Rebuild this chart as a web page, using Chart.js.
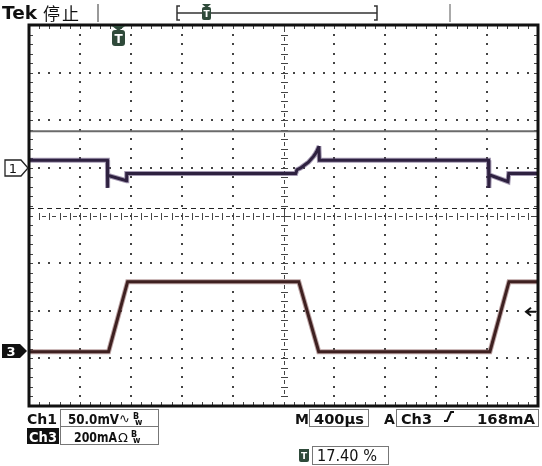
<!DOCTYPE html>
<html>
<head>
<meta charset="utf-8">
<script src="https://cdn.jsdelivr.net/npm/chart.js@4.4.1/dist/chart.umd.min.js"></script>
<style>
  html, body { margin: 0; padding: 0; background: #fff; }
  #wrap { position: relative; width: 542px; height: 466px; }
  #scope, #overlay { position: absolute; left: 0; top: 0; }
  #overlay text { font-family: "DejaVu Sans", sans-serif; font-weight: bold; font-size: 14px; fill: #111; }
</style>
</head>
<body>
<div id="wrap">
  <canvas id="scope" width="542" height="466"></canvas>
  <svg id="overlay" width="542" height="466" xmlns="http://www.w3.org/2000/svg">
    <!-- header -->
    <text x="2" y="19" style="font-size:18px" textLength="35" lengthAdjust="spacingAndGlyphs">Tek</text>
    <text x="43" y="20" style="font-family:'Noto Sans CJK SC';font-size:17px;font-weight:normal" textLength="36">停止</text>
    <line x1="98" y1="4" x2="98" y2="22" stroke="#999" stroke-width="2"/>
    <line x1="450" y1="4" x2="450" y2="22" stroke="#aaa" stroke-width="2"/>
    <path d="M180 6 H177 V20 H180 M374 6 H377 V20 H374 M177 13 H377" fill="none" stroke="#333" stroke-width="1.5"/>
    <path d="M202 4 H211 L206.5 8 Z" fill="#2f4a3a"/>
    <rect x="202" y="7" width="9" height="13" rx="2" fill="#2f4a3a"/>
    <text x="206.5" y="17" text-anchor="middle" style="font-size:9px;fill:#fff">T</text>

    <!-- trigger position marker -->
    <path d="M112 26 H125 L118.5 31 Z" fill="#2f4a3a"/>
    <rect x="112" y="30" width="13" height="16" rx="3" fill="#2f4a3a"/>
    <text x="118.5" y="43" text-anchor="middle" style="font-size:12px;fill:#fff">T</text>

    <!-- channel ground markers -->
    <path d="M5 160 H21 L28 168 L21 176 H5 Z" fill="#fff" stroke="#222" stroke-width="1.3"/>
    <text x="13" y="173" text-anchor="middle" style="font-size:13px;font-weight:normal">1</text>
    <path d="M2 344 H20 L27 351 L20 358 H2 Z" fill="#111"/>
    <text x="11" y="356" text-anchor="middle" style="font-size:13px;fill:#fff">3</text>

    <!-- readouts -->
    <text x="27" y="424" textLength="30" lengthAdjust="spacingAndGlyphs">Ch1</text>
    <rect x="60.5" y="409.5" width="98" height="17" fill="none" stroke="#777"/>
    <text x="68" y="424" textLength="51" lengthAdjust="spacingAndGlyphs">50.0mV</text>
    <text x="119" y="423" style="font-size:13px;font-weight:normal">∿</text>
    <text x="133" y="419" style="font-size:8px">B</text>
    <text x="135" y="425" style="font-size:8px">w</text>

    <rect x="27" y="428" width="32" height="16" fill="#111"/>
    <text x="29" y="442" textLength="28" lengthAdjust="spacingAndGlyphs" style="fill:#fff">Ch3</text>
    <rect x="60.5" y="426.5" width="98" height="18" fill="none" stroke="#777"/>
    <text x="74" y="442" textLength="43" lengthAdjust="spacingAndGlyphs">200mA</text>
    <text x="118" y="442" style="font-size:13px;font-weight:normal">Ω</text>
    <text x="131" y="437" style="font-size:8px">B</text>
    <text x="133" y="443" style="font-size:8px">w</text>

    <text x="295" y="424">M</text>
    <rect x="309.5" y="409.5" width="59" height="17" fill="none" stroke="#777"/>
    <text x="314" y="424" textLength="50" lengthAdjust="spacingAndGlyphs">400µs</text>
    <text x="384" y="424">A</text>
    <rect x="396.5" y="409.5" width="142" height="17" fill="none" stroke="#777"/>
    <text x="401" y="424" textLength="31" lengthAdjust="spacingAndGlyphs">Ch3</text>
    <path d="M444 421 H447 L451 412 H454" fill="none" stroke="#111" stroke-width="2"/>
    <text x="477" y="424" textLength="58" lengthAdjust="spacingAndGlyphs">168mA</text>

    <path d="M299 449 H309 V460 Q309 462 307 462 H301 Q299 462 299 460 Z" fill="#2f4a3a"/>
    <text x="304" y="459" text-anchor="middle" style="font-size:9px;fill:#fff">T</text>
    <rect x="312.5" y="446.5" width="76" height="18" fill="none" stroke="#777"/>
    <text x="317" y="461" textLength="60" lengthAdjust="spacingAndGlyphs" style="font-weight:normal;font-size:15px">17.40 %</text>
  </svg>
</div>
<script>
  // Horizontal: 10 divisions, 400 µs/div, trigger at 17.4 % of record
  const TIME_PER_DIV = 400;
  const TRIG_POS = 0.174;
  const X_MIN = -TRIG_POS * 10 * TIME_PER_DIV;
  const X_MAX = X_MIN + 10 * TIME_PER_DIV;
  const Y_MIN = -4, Y_MAX = 4; // divisions

  // Channel 1: 50 mV/div, ground marker 1 div above centre
  const CH1_SCALE = 50;
  const CH1_OFFSET = 1.0;
  const ch1Time = [-696, -80, -79, -77, -72, 70, 72, 1400, 1410, 1440, 1470, 1500, 1520, 1540, 1555, 1568, 1578, 1582, 1586, 2915, 2918, 2921, 2925, 3068, 3074, 3304];
  const ch1mV =   [8, 8, -21, -8, -8, -13.5, -6, -6, -2, 0, 3, 6, 9, 12, 15, 18, 21, 23, 8, 8, -21, -8, -7.5, -14.5, -6, -6];

  // Channel 3: 200 mA/div, ground marker 2.86 div below centre
  const CH3_SCALE = 200;
  const CH3_OFFSET = -2.86;
  const ch3Time = [-696, -71, 79, 1424, 1581, 2926, 3076, 3304];
  const ch3mA =   [0, 0, 294, 294, 0, 0, 294, 294];

  const TRIG_LEVEL = 168; // mA on Ch3

  // cursor lines (divisions)
  const CURSOR_SOLID = 1.77;
  const CURSOR_DASHED = 0.15;

  const toPoints = (times, vals, scale, offset) =>
    times.map((t, i) => ({ x: t, y: offset + vals[i] / scale }));

  const ch1Pts = toPoints(ch1Time, ch1mV, CH1_SCALE, CH1_OFFSET);
  const ch3Pts = toPoints(ch3Time, ch3mA, CH3_SCALE, CH3_OFFSET);

  const graticule = {
    id: 'graticule',
    beforeDatasetsDraw(chart) {
      const { ctx, chartArea: a, scales: { x, y } } = chart;
      const colX = i => x.getPixelForValue(X_MIN + i * TIME_PER_DIV);
      const rowY = j => y.getPixelForValue(Y_MIN + j);
      ctx.save();
      ctx.fillStyle = '#444';
      // dotted major lines
      for (let i = 1; i < 10; i++) {
        if (i === 5) continue;
        const px = Math.round(colX(i));
        for (let k = 1; k < 40; k++) ctx.fillRect(px - 1, Math.round(rowY(k / 5)) - 1, 2, 2);
      }
      for (let j = 1; j < 8; j++) {
        if (j === 4) continue;
        const py = Math.round(rowY(j));
        for (let k = 1; k < 50; k++) ctx.fillRect(Math.round(colX(k / 5)) - 1, py - 1, 2, 2);
      }
      // centre cross with minor ticks
      const cx = Math.round(colX(5)), cy = Math.round(rowY(4));
      for (let k = 1; k < 50; k++) {
        const px = Math.round(colX(k / 5));
        ctx.fillRect(px, cy - 3, 1, 7);
        const mid = Math.round(colX((k + 0.5) / 5));
        ctx.fillRect(mid - 2, cy, 4, 1);
      }
      for (let k = 1; k < 40; k++) {
        const py = Math.round(rowY(k / 5));
        ctx.fillRect(cx - 3, py, 7, 1);
        const mid = Math.round(rowY((k + 0.5) / 5));
        ctx.fillRect(cx, mid - 2, 1, 4);
      }
      // edge ticks
      for (let k = 1; k < 50; k++) {
        const px = Math.round(colX(k / 5));
        ctx.fillRect(px, a.top, 1, 4);
        ctx.fillRect(px, a.bottom - 4, 1, 4);
      }
      for (let k = 1; k < 40; k++) {
        const py = Math.round(rowY(k / 5));
        ctx.fillRect(a.left, py, 4, 1);
        ctx.fillRect(a.right - 4, py, 4, 1);
      }
      // cursors
      ctx.strokeStyle = '#6b6b6b';
      ctx.lineWidth = 2;
      let py = y.getPixelForValue(CURSOR_SOLID);
      ctx.beginPath(); ctx.moveTo(a.left, py); ctx.lineTo(a.right, py); ctx.stroke();
      ctx.strokeStyle = '#222';
      ctx.lineWidth = 1;
      ctx.setLineDash([5, 4]);
      py = Math.round(y.getPixelForValue(CURSOR_DASHED)) + 0.5;
      ctx.beginPath(); ctx.moveTo(a.left, py); ctx.lineTo(a.right, py); ctx.stroke();
      ctx.restore();
    },
    afterDatasetsDraw(chart) {
      const { ctx, chartArea: a, scales: { y } } = chart;
      ctx.save();
      ctx.strokeStyle = '#111';
      ctx.lineWidth = 3;
      ctx.strokeRect(a.left, a.top, a.right - a.left, a.bottom - a.top);
      // trigger level arrow
      const ty = y.getPixelForValue(CH3_OFFSET + TRIG_LEVEL / CH3_SCALE);
      ctx.lineWidth = 2;
      ctx.beginPath();
      ctx.moveTo(a.right - 2, ty); ctx.lineTo(a.right - 12, ty);
      ctx.moveTo(a.right - 7, ty - 4); ctx.lineTo(a.right - 12, ty); ctx.lineTo(a.right - 7, ty + 4);
      ctx.stroke();
      ctx.restore();
    }
  };

  const ctx = document.getElementById('scope').getContext('2d');
  new Chart(ctx, {
    type: 'line',
    data: {
      datasets: [
        { data: ch1Pts, borderColor: '#2e2140', borderWidth: 3, order: 0 },
        { data: ch3Pts, borderColor: '#3e2020', borderWidth: 3, order: 0 },
        { data: ch1Pts, borderColor: 'rgba(90,70,115,0.55)', borderWidth: 5, order: 1 },
        { data: ch3Pts, borderColor: 'rgba(120,70,70,0.5)', borderWidth: 5, order: 1 }
      ]
    },
    options: {
      responsive: false,
      animation: false,
      events: [],
      layout: { padding: { left: 29, top: 25, right: 4, bottom: 60 } },
      elements: { point: { radius: 0 }, line: { tension: 0, fill: false } },
      scales: {
        x: { type: 'linear', min: X_MIN, max: X_MAX, display: false },
        y: { min: Y_MIN, max: Y_MAX, display: false }
      },
      plugins: { legend: { display: false }, tooltip: { enabled: false } }
    },
    plugins: [graticule]
  });
</script>
</body>
</html>
